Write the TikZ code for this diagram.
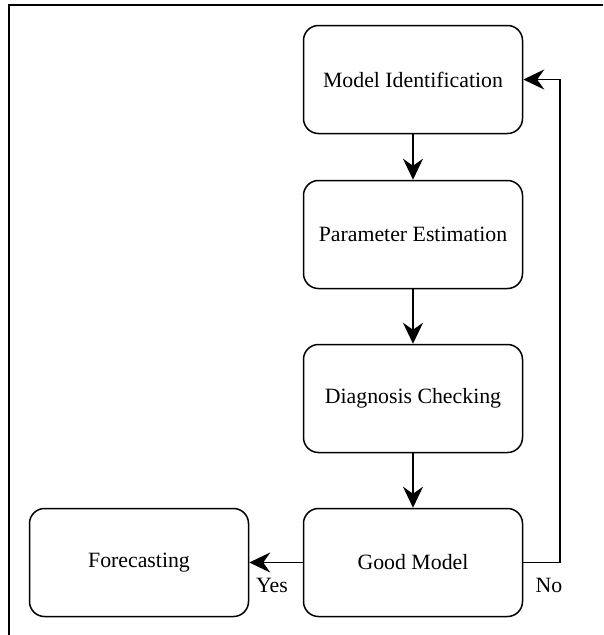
\documentclass[tikz,border=0pt]{standalone}
\usepackage{fontspec}
\setmainfont{Liberation Serif}
\usetikzlibrary{arrows.meta}
\begin{document}
\begin{tikzpicture}[x=1pt,y=-1pt,
  stepbox/.style={draw, line width=1.5pt, rounded corners=15pt,
    minimum width=219pt, minimum height=108pt, inner sep=0pt,
    font=\fontsize{21.8}{24}\selectfont},
  flow/.style={line width=1.5pt, -{Stealth[length=21pt,width=20pt,inset=7pt]}},
  lbl/.style={font=\fontsize{21.8}{24}\selectfont, inner sep=0pt}]
\useasboundingbox (0,0) rectangle (603,635);
% partial frame: top and left edges
\draw[line width=1.6pt] (603,5) -- (9,5) -- (9,635);
% process steps
\node[stepbox] (ident) at (413,79.5) {Model Identification};
\node[stepbox] (param) at (413,234.5) {Parameter Estimation};
\node[stepbox] (diag)  at (413,398.5) {Diagnosis Checking};
\node[stepbox] (good)  at (413,562.5) {Good Model};
\node[stepbox] (fcast) at (139,562.5) {Forecasting};
% connectors
\draw[flow] (ident) -- (param);
\draw[flow] (param) -- (diag);
\draw[flow] (diag) -- (good);
\draw[flow] (good) -- (fcast);
\coordinate (cornerB) at (560,562.5);
\coordinate (cornerT) at (560,79.5);
\draw[flow] (good.east) -- (cornerB) -- (cornerT) -- (ident.east);
% decision labels
\node[lbl] (yes) at (272,585) {Yes};
\node[lbl] (no)  at (549,585) {No};
\end{tikzpicture}
\end{document}
